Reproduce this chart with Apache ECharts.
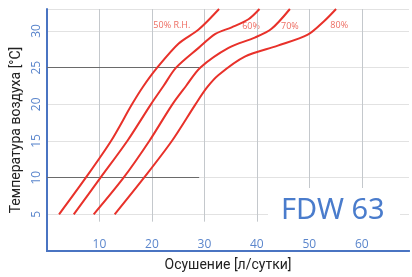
<!DOCTYPE html>
<html>
<head>
<meta charset="utf-8">
<script src="https://cdn.jsdelivr.net/npm/echarts@6/dist/echarts.min.js"></script>
<style>
html, body { margin: 0; padding: 0; background: #fff; }
#chartBox { width: 412px; height: 277px; }
</style>
</head>
<body>
<div id="chartBox"></div>
<script>
// curves: [осушение л/сутки, температура °C]
var rh50 = [[2.3, 5], [7.4, 10], [12.2, 15], [16.2, 20], [18.3, 22.4], [21.0, 25], [25.1, 28.3], [28.9, 30.2], [32.8, 33]];
var rh60 = [[5.1, 5], [10.2, 10], [15.3, 15], [19.8, 20], [22.2, 22.5], [24.6, 25], [28.9, 27.7], [32.1, 29.6], [35.2, 30.5], [38.4, 31.6], [40.5, 33]];
var rh70 = [[8.9, 5], [14.6, 10], [19.5, 15], [23.9, 20], [26.5, 22.5], [29.2, 25], [34.6, 27.7], [39.6, 29.1], [42.8, 30.3], [46.3, 33]];
var rh80 = [[12.9, 5], [18.5, 10], [23.8, 15], [28.3, 20], [30.5, 22.3], [32.7, 24.0], [37.7, 26.5], [44.0, 28.0], [49.7, 29.5], [52.9, 31.4], [55.1, 33]];
var curveNames = ['50% R.H.', '60%', '70%', '80%'];
var labelPos = [[23.8, 30.8], [38.9, 30.6], [46.3, 30.6], [55.7, 30.7]];
var xTicks = [10, 20, 30, 40, 50, 60];
var refTemps = [10, 25];

var chart = echarts.init(document.getElementById('chartBox'));

var gridX = [];
for (var i = 0; i < xTicks.length; i++) {
    gridX.push([{ coord: [xTicks[i], 4] }, { coord: [xTicks[i], 33] }]);
}
for (var j = 0; j < refTemps.length; j++) {
    gridX.push([
        { coord: [0, refTemps[j]], lineStyle: { color: '#6a6a6a', width: 1 } },
        { coord: [29, refTemps[j]] }
    ]);
}

function curve(name, data) {
    return {
        name: name,
        type: 'line',
        data: data,
        smooth: 0.3,
        showSymbol: false,
        symbol: 'none',
        lineStyle: { color: '#e8312a', width: 2 },
        z: 5
    };
}

var labelData = [];
for (var k = 0; k < curveNames.length; k++) {
    labelData.push({ name: curveNames[k], value: labelPos[k] });
}

var option = {
    animation: false,
    grid: { left: 47, right: 0, top: 9, bottom: 22 },
    xAxis: [{
        type: 'value',
        min: 0, max: 69, interval: 10,
        name: 'Осушение [л/сутки]',
        nameLocation: 'middle',
        nameGap: 7,
        nameTextStyle: { color: '#222', fontSize: 14, fontFamily: 'Roboto' },
        axisLine: { show: true, onZero: false, lineStyle: { color: '#4a74c2', width: 2 } },
        axisTick: { show: false },
        axisLabel: {
            inside: true, margin: 0, color: '#5b86cc', fontSize: 12, fontFamily: 'Open Sans',
            formatter: function (v) { return (v === 0 || v % 10) ? '' : v; }
        },
        splitLine: { show: false }
    }, {
        type: 'value', position: 'top', min: 0, max: 69,
        axisLine: { show: true, lineStyle: { color: '#4a74c2', width: 2 } },
        axisTick: { show: false }, axisLabel: { show: false }, splitLine: { show: false }
    }],
    yAxis: {
        type: 'value',
        min: 0, max: 33, interval: 5,
        name: 'Температура воздуха [°C]',
        nameLocation: 'middle',
        nameGap: 24,
        nameTextStyle: { color: '#222', fontSize: 14, fontFamily: 'Roboto' },
        axisLine: { show: true, onZero: false, lineStyle: { color: '#4a74c2', width: 2 } },
        axisTick: { show: false },
        axisLabel: {
            rotate: 90, margin: 4, color: '#5b86cc', fontSize: 12, fontFamily: 'Open Sans',
            formatter: function (v) { return (v === 0 || v % 5) ? '' : v; }
        },
        splitLine: { show: true, lineStyle: { color: '#e2e2e2', width: 1 } }
    },
    series: [
        curve(curveNames[0], rh50),
        curve(curveNames[1], rh60),
        curve(curveNames[2], rh70),
        curve(curveNames[3], rh80),
        {
            type: 'scatter',
            symbolSize: 0,
            data: labelData,
            silent: true,
            label: {
                show: true, position: 'inside', formatter: '{b}',
                color: '#e8473a', fontSize: 9, fontFamily: 'Open Sans'
            },
            markLine: {
                silent: true,
                symbol: 'none',
                label: { show: false },
                lineStyle: { color: '#c4c8cc', width: 1, type: 'solid' },
                data: gridX
            },
            z: 2
        }
    ],
    graphic: [{
        type: 'rect',
        shape: { x: 268, y: 188, width: 132, height: 47 },
        style: { fill: '#fff' },
        z: 50
    }, {
        type: 'text',
        left: 281, top: 196,
        style: { text: 'FDW 63', fill: '#4a7ccc', fontSize: 29, fontFamily: 'Noto Sans' },
        z: 51
    }]
};
chart.setOption(option);
</script>
</body>
</html>
